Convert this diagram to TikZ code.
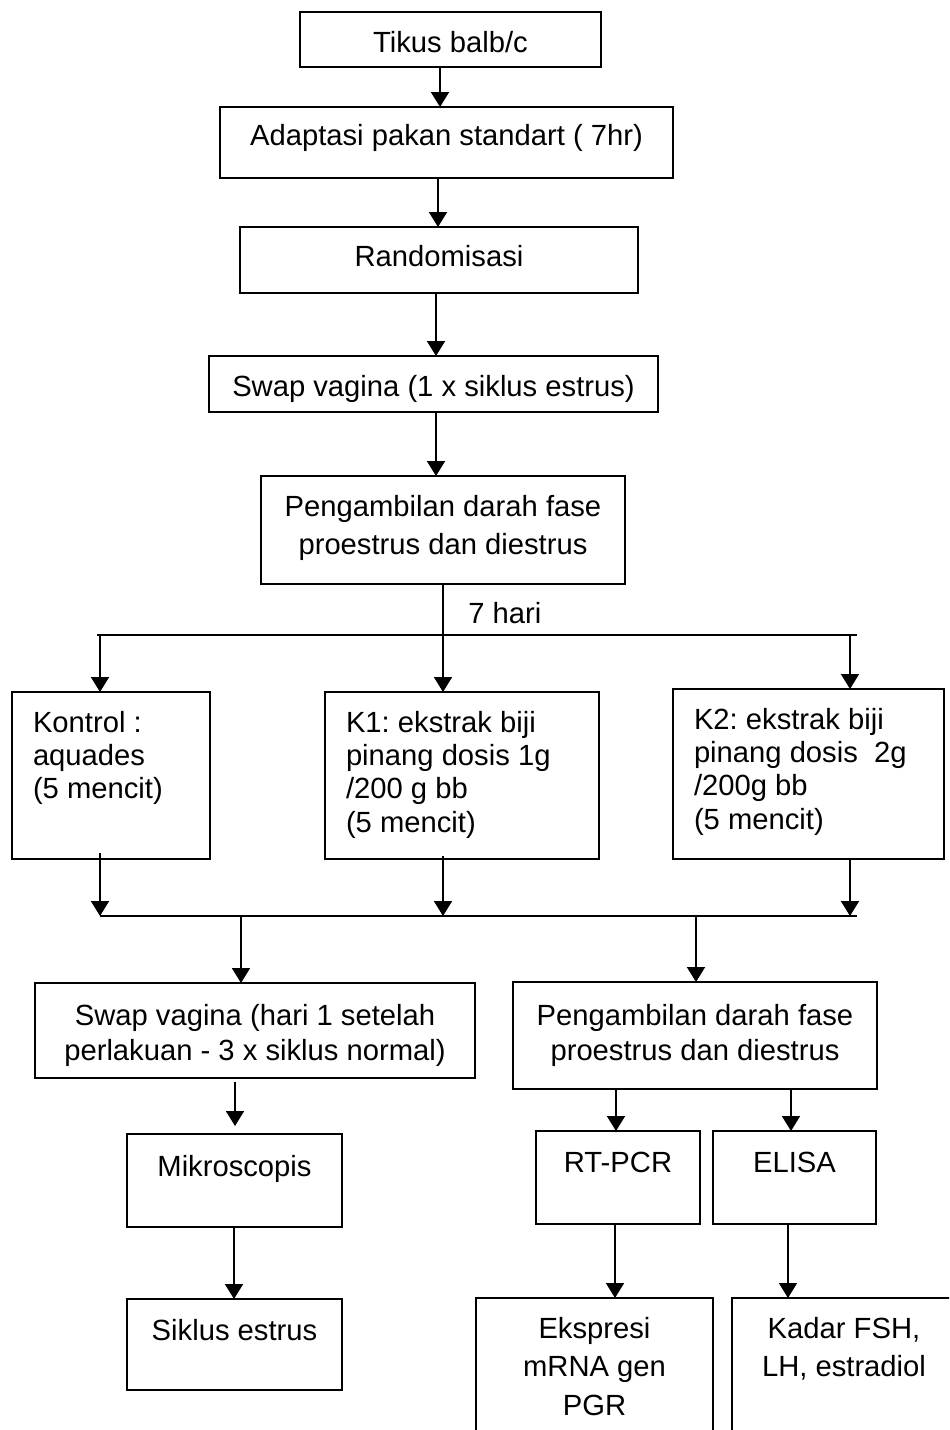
\documentclass[tikz,border=0pt]{standalone}
\usepackage{fontspec}
\setmainfont{Liberation Sans}
\usetikzlibrary{arrows.meta}
\frenchspacing
\newcommand\bxfont{\fontsize{14.6}{17.5}\selectfont}
% name x1 y1 x2 y2 baseline(px from top) baselineskip align text
\newcommand\mkbox[9]{%
  \pgfmathsetmacro\bw{(#4-#2)*0.5}%
  \pgfmathsetmacro\bh{(#5-#3)*0.5}%
  \pgfmathsetmacro\bcx{(#2+#4)/2}%
  \pgfmathsetmacro\bcy{(#3+#5)/2}%
  \pgfmathsetmacro\bp{#6*0.5}%
  \node[box] (#1) at (\bcx,\bcy) {\begin{minipage}[c][\bh pt][t]{\bw pt}\fontsize{14.6}{#7}\selectfont\vspace*{\dimexpr\bp pt-0.7\baselineskip\relax}#8\strut #9\end{minipage}};%
}
\tikzset{
  box/.style={draw, line width=0.8pt, inner sep=0pt, outer sep=0pt},
  arr/.style={line width=0.9pt, -{Triangle[length=7.5pt,width=9pt]}},
  ln/.style={line width=0.9pt},
}
\newcommand\lft{\raggedright\leftskip=10.5pt }
\begin{document}
\begin{tikzpicture}[x=0.5pt,y=-0.5pt]
\useasboundingbox (0,0) rectangle (949,1430);
\clip (0,0) rectangle (949,1430);
\mkbox{tikus}{300}{12}{601}{67}{40}{17.5pt}{\centering}{Tikus balb/c}
\mkbox{adapt}{220}{107}{673}{178}{38.5}{17.5pt}{\centering}{Adaptasi pakan standart ( 7hr)}
\mkbox{rand}{240}{227}{638}{293}{39.7}{17.5pt}{\centering}{Randomisasi}
\mkbox{swapa}{209}{356}{658}{412}{40}{17.5pt}{\centering}{Swap vagina (1 x siklus estrus)}
\mkbox{penga}{261}{476}{625}{584}{40}{19.3pt}{\centering}{Pengambilan darah fase\\proestrus dan diestrus}
\mkbox{kontrol}{12}{692}{210}{859}{40}{16.7pt}{\lft}{Kontrol :\\aquades\\(5 mencit)}
\mkbox{ka}{325}{692}{599}{859}{40}{16.7pt}{\lft}{K1: ekstrak biji\\pinang dosis 1g\\/200 g bb\\(5 mencit)}
\mkbox{kb}{673}{689}{944}{859}{40}{16.7pt}{\lft}{K2: ekstrak biji\\pinang dosis\ \ 2g\\/200g bb\\(5 mencit)}
\mkbox{swapb}{35}{983}{475}{1078}{42}{17.5pt}{\centering}{Swap vagina (hari 1 setelah\\perlakuan - 3 x siklus normal)}
\mkbox{pengb}{513}{982}{877}{1089}{43}{17.5pt}{\centering}{Pengambilan darah fase\\proestrus dan diestrus}
\mkbox{mikro}{127}{1134}{342}{1227}{42}{17.5pt}{\centering}{Mikroscopis}
\mkbox{rtpcr}{536}{1131}{700}{1224}{41}{17.5pt}{\centering}{RT-PCR}
\mkbox{elisa}{713}{1131}{876}{1224}{41}{17.5pt}{\centering}{ELISA}
\mkbox{siklus}{127}{1299}{342}{1390}{41}{17.5pt}{\centering}{Siklus estrus}
\mkbox{ekspresi}{476}{1298}{713}{1470}{40}{19.25pt}{\centering}{Ekspresi\\mRNA gen\\PGR}
\mkbox{kadar}{732}{1298}{956}{1470}{40}{19.25pt}{\centering}{Kadar FSH,\\LH, estradiol}
% column coordinates
\coordinate (c440) at (440,0);
\coordinate (c438) at (438,0);
\coordinate (c436) at (436,0);
\coordinate (c443) at (443,0);
\coordinate (c100) at (100,0);
\coordinate (c850) at (850,0);
\coordinate (c241) at (241,0);
\coordinate (c696) at (696,0);
\coordinate (c235) at (235,0);
\coordinate (c616) at (616,0);
\coordinate (c791) at (791,0);
\coordinate (c234) at (234,0);
\coordinate (c615) at (615,0);
\coordinate (c788) at (788,0);
% buses
\coordinate (busaL) at (97,635);
\coordinate (busaR) at (857,635);
\coordinate (busbL) at (100,916);
\coordinate (busbR) at (857,916);
\draw[arr] (tikus.south -| c440) -- (adapt.north -| c440);
\draw[arr] (adapt.south -| c438) -- (rand.north -| c438);
\draw[arr] (rand.south -| c436) -- (swapa.north -| c436);
\draw[arr] (swapa.south -| c436) -- (penga.north -| c436);
\draw[ln] (penga.south -| c443) -- (busaL -| c443);
\node[anchor=base west, inner sep=0pt, font=\bxfont] (hari) at (468,623) {7 hari};
\draw[ln] (busaL) -- (busaR);
\draw[arr] (busaL -| c100) -- (kontrol.north -| c100);
\draw[arr] (busaL -| c443) -- (ka.north -| c443);
\draw[arr] (busaL -| c850) -- (kb.north -| c850);
\draw[arr] ([yshift=3pt]kontrol.south -| c100) -- (busbL -| c100);
\draw[arr] ([yshift=1.5pt]ka.south -| c443) -- (busbL -| c443);
\draw[arr] (kb.south -| c850) -- (busbL -| c850);
\draw[ln] (busbL) -- (busbR);
\draw[arr] (busbL -| c241) -- (swapb.north -| c241);
\draw[arr] (busbL -| c696) -- (pengb.north -| c696);
\draw[arr, shorten <=2pt, shorten >=4pt] (swapb.south -| c235) -- (mikro.north -| c235);
\draw[arr] (pengb.south -| c616) -- (rtpcr.north -| c616);
\draw[arr] (pengb.south -| c791) -- (elisa.north -| c791);
\draw[arr] (mikro.south -| c234) -- (siklus.north -| c234);
\draw[arr] (rtpcr.south -| c615) -- (ekspresi.north -| c615);
\draw[arr] (elisa.south -| c788) -- (kadar.north -| c788);
\end{tikzpicture}
\end{document}
